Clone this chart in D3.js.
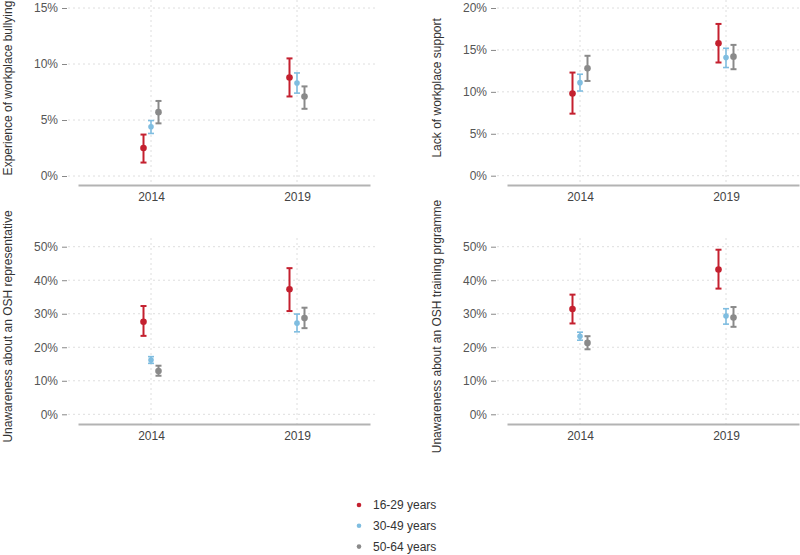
<!DOCTYPE html>
<html>
<head>
<meta charset="utf-8">
<script src="https://cdn.jsdelivr.net/npm/d3@7"></script>
<style>
  body { margin: 0; background: #fff; }
  text { font-family: "Liberation Sans", Arial, sans-serif; }
</style>
</head>
<body>
<div id="chart"></div>
<script>
const years = ["2014", "2019"];
const ageGroups = ["16-29 years", "30-49 years", "50-64 years"];
const ageColors = ["#c4202f", "#7fbde0", "#8a8a8a"];

// [estimate, low, high] per age group, per year (in %)
const bullying = {
    "2014": [[2.5, 1.2, 3.7], [4.4, 3.8, 4.95], [5.7, 4.7, 6.7]],
    "2019": [[8.8, 7.1, 10.5], [8.3, 7.4, 9.2], [7.1, 6.0, 8.0]]
};
const support = {
    "2014": [[9.8, 7.4, 12.3], [11.1, 10.1, 12.1], [12.8, 11.3, 14.3]],
    "2019": [[15.8, 13.5, 18.1], [14.1, 12.9, 15.2], [14.2, 12.7, 15.6]]
};
const oshRep = {
    "2014": [[27.6, 23.4, 32.3], [16.2, 15.2, 17.2], [12.9, 11.5, 14.5]],
    "2019": [[37.3, 30.8, 43.6], [27.2, 24.6, 29.9], [28.7, 25.7, 31.8]]
};
const oshTraining = {
    "2014": [[31.4, 27.1, 35.7], [23.3, 22.1, 24.5], [21.3, 19.4, 23.3]],
    "2019": [[43.2, 37.5, 49.1], [29.3, 26.9, 31.5], [28.9, 26.1, 32.0]]
};

const titles = [
    "Experience of workplace bullying",
    "Lack of workplace support",
    "Unawareness about an OSH representative",
    "Unawareness about an OSH training prgramme"
];
const yTicks = [
    [0, 5, 10, 15],
    [0, 5, 10, 15, 20],
    [0, 10, 20, 30, 40, 50],
    [0, 10, 20, 30, 40, 50]
];
const panelData = [bullying, support, oshRep, oshTraining];

const width = 800, height = 555;

const svg = d3.select("#chart").append("svg")
    .attr("width", width)
    .attr("height", height);

// panel geometry
const panels = [
    {x0: 0, top: 0, y0: 176, y1: 8, axisY: 185, right: 378},
    {x0: 429, top: 0, y0: 175.7, y1: 8, axisY: 185, right: 800},
    {x0: 0, top: 238, y0: 414.3, y1: 246.7, axisY: 424, right: 378},
    {x0: 429, top: 238, y0: 414.3, y1: 246.7, axisY: 424, right: 800}
];

panels.forEach(function(p, i) {
    const ticks = yTicks[i];
    const data = panelData[i];
    const g = svg.append("g");

    const x = d3.scalePoint()
        .domain(years)
        .range([p.x0 + 78, p.x0 + 370])
        .padding(0.5);

    const dodge = d3.scalePoint()
        .domain(ageGroups)
        .range([-7.5, 7.5]);

    const y = d3.scaleLinear()
        .domain([0, d3.max(ticks)])
        .range([p.y0, p.y1]);

    // grid
    g.selectAll(".hgrid").data(ticks).enter().append("line")
        .attr("x1", p.x0 + 68).attr("x2", p.right)
        .attr("y1", function(d) { return y(d); })
        .attr("y2", function(d) { return y(d); })
        .attr("stroke", "#dedede")
        .attr("stroke-dasharray", "2,3");

    g.selectAll(".vgrid").data(years).enter().append("line")
        .attr("x1", function(d) { return x(d); })
        .attr("x2", function(d) { return x(d); })
        .attr("y1", p.top).attr("y2", p.axisY)
        .attr("stroke", "#dedede")
        .attr("stroke-dasharray", "2,3");

    // y axis
    const yAxis = g.append("g")
        .attr("transform", "translate(" + (p.x0 + 67) + ",0)")
        .call(d3.axisLeft(y)
            .tickValues(ticks)
            .tickSize(5)
            .tickPadding(4)
            .tickFormat(function(d) { return d + "%"; }));
    yAxis.select(".domain").remove();
    yAxis.selectAll("line").attr("stroke", "#888");
    yAxis.selectAll("text")
        .attr("fill", "#555")
        .style("font-size", "12px");

    // x axis
    const xAxis = g.append("g")
        .attr("transform", "translate(0," + p.axisY + ")")
        .call(d3.axisBottom(x).tickSize(0).tickPadding(7));
    xAxis.select(".domain")
        .attr("stroke", "#b3b3b3")
        .attr("stroke-width", 2);
    xAxis.selectAll("text")
        .attr("fill", "#444")
        .style("font-size", "12px");

    // y axis title
    g.append("text")
        .attr("transform", "translate(" + (p.x0 + 12) + "," + ((p.y0 + p.y1) / 2 - 4) + ") rotate(-90)")
        .style("text-anchor", "middle")
        .style("font-size", "12px")
        .attr("fill", "#333")
        .text(titles[i]);

    // error bars and points
    years.forEach(function(yr) {
        data[yr].forEach(function(v, k) {
            const cx = x(yr) + dodge(ageGroups[k]);
            const col = ageColors[k];
            const sw = k === 1 ? 1.6 : 2;
            g.append("line")
                .attr("x1", cx).attr("x2", cx)
                .attr("y1", y(v[1])).attr("y2", y(v[2]))
                .attr("stroke", col).attr("stroke-width", sw);
            [v[1], v[2]].forEach(function(c) {
                g.append("line")
                    .attr("x1", cx - 3).attr("x2", cx + 3)
                    .attr("y1", y(c)).attr("y2", y(c))
                    .attr("stroke", col).attr("stroke-width", sw);
            });
            g.append("circle")
                .attr("cx", cx).attr("cy", y(v[0]))
                .attr("r", k === 1 ? 2.8 : 3.3)
                .attr("fill", col);
        });
    });
});

// legend
const legend = svg.append("g");
ageGroups.forEach(function(a, k) {
    const ly = 505 + k * 20.8;
    legend.append("circle")
        .attr("cx", 359).attr("cy", ly)
        .attr("r", 2.3)
        .attr("fill", ageColors[k]);
    legend.append("text")
        .attr("x", 373).attr("y", ly)
        .attr("dy", "0.35em")
        .style("font-size", "12px")
        .attr("fill", "#333")
        .text(a);
});
</script>
</body>
</html>
